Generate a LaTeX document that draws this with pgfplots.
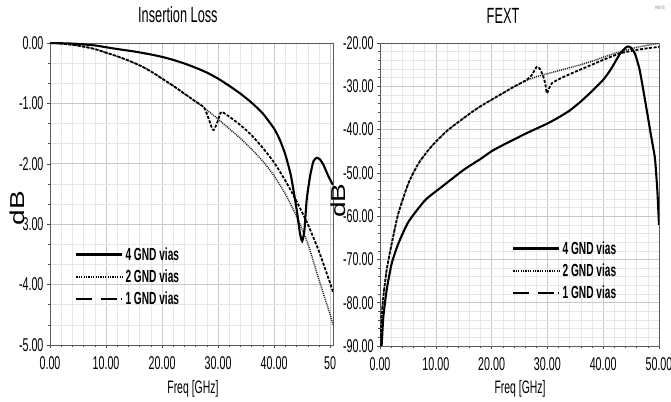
\documentclass[border=0pt]{standalone}
\usepackage{graphicx}
\usepackage{fontspec}
\setmainfont{Liberation Sans}[FakeStretch=0.58]
\newfontfamily\dbfont{Liberation Sans}
\usepackage{pgfplots}
\pgfplotsset{compat=1.18}
\definecolor{majgrid}{RGB}{200,200,200}
\definecolor{mingrid}{RGB}{230,230,230}
\pgfplotsset{
  common/.style={
    scale only axis,
    /pgf/number format/assume math mode=true,
    xmin=0,
    grid=both,
    major grid style={majgrid, line width=0.6pt},
    minor grid style={mingrid, line width=0.5pt},
    axis line style={gray!70!black, line width=0.7pt},
    tick align=outside,
    xtick pos=bottom, ytick pos=left,
    major tick length=3pt, minor tick length=2pt,
    tick style={gray!60!black, line width=0.5pt},
    ticklabel style={font=\fontsize{18.5}{18.5}\selectfont},
    xticklabel style={yshift=-5pt},
    label style={font=\fontsize{18}{18}\selectfont},
    title style={font=\fontsize{22}{22}\selectfont},
    legend style={draw=none, fill=none, inner sep=0pt, font=\bfseries\fontsize{17.5}{17.5}\selectfont, row sep=4pt, legend cell align=left, anchor=north west},
    legend image code/.code={\draw[#1] (0pt,0pt) -- (46pt,0pt);},
  },
  s4/.style={black, line width=2.1pt, smooth, tension=0.35},
  s2/.style={black!85, line width=1.5pt, dash pattern=on 1pt off 1pt, smooth, tension=0.35},
  s1/.style={black, line width=1.8pt, dash pattern=on 3pt off 1.6pt, smooth, tension=0.35},
  l4/.style={black, line width=2.4pt},
  l2/.style={black, line width=1.4pt, dash pattern=on 1.2pt off 1.2pt},
  l1/.style={black, line width=1.6pt, dash pattern=on 16pt off 9pt on 16pt off 4pt on 1pt off 10pt},
}
\begin{document}
\begin{tikzpicture}
\path[use as bounding box] (0pt,0pt) rectangle (671pt,401pt);
% ---------------- Insertion Loss ----------------
\begin{axis}[common,
  at={(50pt,56pt)}, anchor=south west,
  width=283pt, height=302pt,
  xmax=50.5, ymin=-5, ymax=0,
  xtick={0,10,20,30,40,50}, xticklabels={0.00,10.00,20.00,30.00,40.00,50},
  ytick={-5,-4,-3,-2,-1,0}, yticklabels={-5.00,-4.00,3.00,-2.00,-1.00,0.00},
  minor x tick num=4, minor y tick num=2,
  title={Insertion Loss}, title style={at={(axis description cs:0.452,1.073)}, anchor=center},
  xlabel={Freq [GHz]}, xlabel style={at={(axis description cs:0.505,-0.145)}, anchor=center},
  ylabel={\scalebox{1}[0.72]{\dbfont\fontsize{28}{28}\selectfont dB}},
  ylabel style={at={(axis description cs:-0.117,0.454)}, anchor=center},
  legend style={at={(axis description cs:0.088,0.33)}},
]
\addlegendimage{l4}\addlegendentry{4 GND vias}
\addlegendimage{l2}\addlegendentry{2 GND vias}
\addlegendimage{l1}\addlegendentry{1 GND vias}
% 2 GND vias
\addplot[s2, forget plot] coordinates {
(0,0) (2,-0.01) (4,-0.03) (6,-0.06) (8,-0.10) (10,-0.16) (12,-0.22) (14,-0.29)
(16,-0.37) (18,-0.47) (20,-0.59) (22,-0.71) (24,-0.84) (26,-0.97) (27.5,-1.07)
(28,-1.11) (30,-1.26) (32,-1.42) (34,-1.58) (36,-1.76) (38,-1.96) (40,-2.2)
(42,-2.5) (44,-2.87) (46,-3.32) (48,-3.92) (50,-4.5) (50.5,-4.66)};
% 1 GND vias
\addplot[s1, forget plot] coordinates {
(0,0) (2,-0.01) (4,-0.03) (6,-0.06) (8,-0.10) (10,-0.16) (12,-0.22) (14,-0.29)
(16,-0.37) (18,-0.47) (20,-0.59) (22,-0.71) (24,-0.84) (26,-0.97) (27.5,-1.07)
(28.3,-1.25) (28.9,-1.41) (29.2,-1.44) (29.8,-1.33) (30.4,-1.16) (30.7,-1.14)
(32,-1.22) (34,-1.36) (36,-1.53) (38,-1.74) (40,-1.98) (42,-2.28) (44,-2.62)
(46,-3.0) (48,-3.45) (50,-3.98) (50.5,-4.12)};
% 4 GND vias
\addplot[s4, forget plot] coordinates {
(0,0) (4,-0.01) (8,-0.04) (10,-0.07) (12,-0.1) (15,-0.14) (18,-0.19) (20,-0.23)
(22,-0.28) (24,-0.34) (26,-0.41) (28,-0.49) (30,-0.59) (32,-0.71) (34,-0.84)
(36,-0.99) (38,-1.17) (40,-1.42) (41,-1.6) (42,-1.85) (43,-2.2) (44,-2.75)
(44.6,-3.15) (45.0,-3.28) (45.4,-3.1) (45.8,-2.6) (46.4,-2.21) (47.0,-1.96)
(47.6,-1.9) (48.2,-1.93) (48.8,-2.02) (49.7,-2.21) (50.5,-2.35)};
\end{axis}
% ---------------- FEXT ----------------
\begin{axis}[common,
  at={(380pt,55pt)}, anchor=south west,
  width=279pt, height=303pt,
  xmax=50, ymin=-90, ymax=-20,
  xtick={0,10,20,30,40,50}, xticklabels={0.00,10.00,20.00,30.00,40.00,50.00},
  ytick={-90,-80,-70,-60,-50,-40,-30,-20},
  yticklabels={-90.00,-80.00,-70.00,-60.00,-50.00,-40.00,-30.00,-20.00},
  minor x tick num=4, minor y tick num=4,
  title={FEXT}, title style={at={(axis description cs:0.441,1.069)}, anchor=center},
  xlabel={Freq [GHz]}, xlabel style={at={(axis description cs:0.502,-0.142)}, anchor=center},
  ylabel={\scalebox{1}[0.72]{\dbfont\fontsize{28}{28}\selectfont dB}},
  ylabel style={at={(axis description cs:-0.15,0.48)}, anchor=center},
  legend style={at={(axis description cs:0.473,0.352)}},
]
\addlegendimage{l4}\addlegendentry{4 GND vias}
\addlegendimage{l2}\addlegendentry{2 GND vias}
\addlegendimage{l1}\addlegendentry{1 GND vias}
% 2 GND vias
\addplot[s2, forget plot] coordinates {
(0.1,-90) (0.3,-83.2) (0.6,-78.6) (1.2,-72.4) (2.1,-66.3) (3.3,-59.3) (5.1,-52.4)
(6.9,-47.8) (8.7,-44.7) (10,-42.8) (12,-40.3) (14,-38.3) (16,-36.4) (17.9,-34.7)
(20,-33.1) (22,-31.6) (24,-30.1) (26,-28.8) (28,-27.8) (30,-27.1)
(32,-26.4) (34,-25.7) (36,-25.0) (38,-24.2) (40,-23.3) (42,-22.4) (44,-21.7)
(46,-21.0) (48,-20.5) (50,-20.1)};
% 1 GND vias
\addplot[s1, forget plot] coordinates {
(0.1,-90) (0.3,-83.2) (0.6,-78.6) (1.2,-72.4) (2.1,-66.3) (3.3,-59.3) (5.1,-52.4)
(6.9,-47.8) (8.7,-44.7) (10,-42.8) (12,-40.3) (14,-38.3) (16,-36.4) (17.9,-34.7)
(20,-33.1) (22,-31.6) (24,-30.1) (26.3,-28.5) (27.2,-27.4) (28.1,-25.5)
(28.6,-25.9) (29.2,-27.5) (29.6,-29.3) (29.9,-31.6) (30.2,-30.8) (30.8,-29.3)
(32.3,-28.2) (34,-27.2) (35.8,-26.2) (38,-25.0) (40,-23.9) (43,-22.4)
(46,-21.6) (48,-21.2) (50,-20.9)};
% 4 GND vias
\addplot[s4, forget plot] coordinates {
(0.2,-90) (0.3,-89.7) (0.6,-83.2) (1.2,-77.0) (2.1,-70.9) (3.3,-66.3) (5.1,-61.3)
(8.1,-56.3) (11.1,-53.2) (15,-49.3) (18,-46.8) (20,-45.0) (22,-43.6) (24,-42.3)
(26,-41.0) (28,-39.8) (30,-38.6) (32,-37.2) (34,-35.6) (36,-33.5) (38,-31.1)
(40,-28.5) (41.2,-26.4) (42,-24.7) (43,-22.5) (44,-21.1) (44.5,-20.8) (45,-21.1)
(45.7,-22.5) (46.5,-26) (47.2,-31) (48,-37) (48.4,-40.1) (49,-44.5) (49.3,-47)
(49.7,-54) (50,-62)};
\end{axis}
\node[font=\fontsize{5}{5}\selectfont, text=gray, anchor=center] at (660pt,393pt) {ANSYS};
\end{tikzpicture}
\end{document}
